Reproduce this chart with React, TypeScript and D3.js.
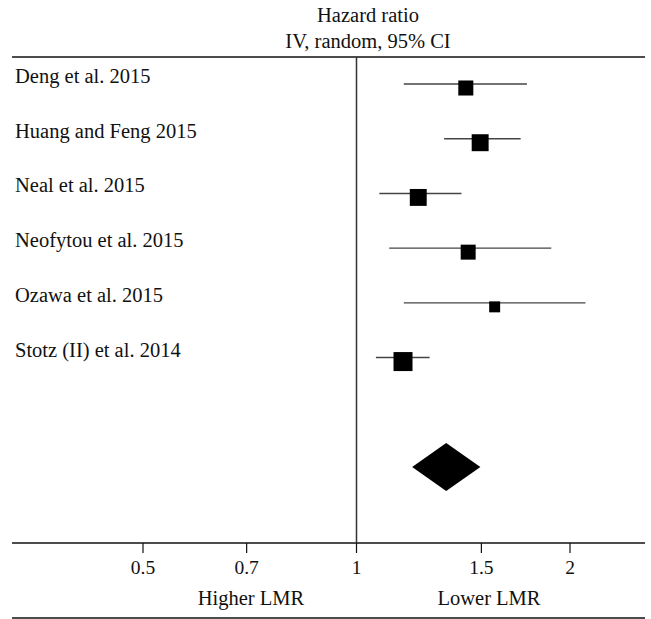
import * as d3 from 'd3';
import { useEffect, useRef } from 'react';

// study rows
const studies = [
  'Deng et al. 2015',
  'Huang and Feng 2015',
  'Neal et al. 2015',
  'Neofytou et al. 2015',
  'Ozawa et al. 2015',
  'Stotz (II) et al. 2014',
];
const hazardRatios = [1.426, 1.494, 1.222, 1.437, 1.566, 1.163];
const lowerCI = [1.166, 1.329, 1.077, 1.112, 1.166, 1.065];
const upperCI = [1.739, 1.704, 1.406, 1.882, 2.103, 1.268];
const weights = [15.0, 19.1, 19.0, 14.9, 8.0, 24.0];

const pooled = { hr: 1.338, lo: 1.198, hi: 1.495 };

const tickValues = [0.5, 0.7, 1, 1.5, 2];
const tickLabels = ['0.5', '0.7', '1', '1.5', '2'];
const titleLines = ['Hazard ratio', 'IV, random, 95% CI'];
const favourLabels = ['Higher LMR', 'Lower LMR'];

export default function App() {
  const ref = useRef<SVGSVGElement>(null);
  const width = 651;
  const height = 619;

  useEffect(() => {
    const svg = d3.select(ref.current);
    svg.selectAll('*').remove();

    const font = '"Liberation Serif", "Times New Roman", serif';
    const left = 12;
    const right = 645;
    const topRule = 57;
    const axisY = 543;
    const bottomRule = 618;

    const x = d3.scaleLog().domain([1, 2]).range([356.5, 570]);
    const y = d3.scaleLinear().domain([0, 7]).range([84, 467]);
    const size = d3.scaleSqrt().domain([0, 24]).range([0, 19]);

    const root = svg.append('g').style('font-family', font).style('font-size', '20.5px');

    // header
    titleLines.forEach((line, i) => {
      root.append('text')
        .attr('x', 368)
        .attr('y', 22 + i * 26)
        .attr('text-anchor', 'middle')
        .attr('fill', '#111')
        .text(line);
    });

    // horizontal rules
    [topRule, axisY, bottomRule].forEach((yy) => {
      root.append('line')
        .attr('x1', left)
        .attr('x2', right)
        .attr('y1', yy)
        .attr('y2', yy)
        .attr('stroke', '#111')
        .attr('stroke-width', 1.5);
    });

    // line of no effect
    root.append('line')
      .attr('x1', x(1))
      .attr('x2', x(1))
      .attr('y1', topRule)
      .attr('y2', axisY)
      .attr('stroke', '#333')
      .attr('stroke-width', 1.5);

    // ticks
    const ticks = root.append('g');
    tickValues.forEach((v, i) => {
      ticks.append('line')
        .attr('x1', x(v))
        .attr('x2', x(v))
        .attr('y1', axisY)
        .attr('y2', axisY + 10)
        .attr('stroke', '#111')
        .attr('stroke-width', 1.2);
      ticks.append('text')
        .attr('x', x(v))
        .attr('y', 574)
        .attr('text-anchor', 'middle')
        .attr('fill', '#111')
        .style('font-size', '19.5px')
        .text(tickLabels[i]);
    });

    root.append('text')
      .attr('x', 251)
      .attr('y', 605)
      .attr('text-anchor', 'middle')
      .attr('fill', '#111')
      .text(favourLabels[0]);
    root.append('text')
      .attr('x', 489)
      .attr('y', 605)
      .attr('text-anchor', 'middle')
      .attr('fill', '#111')
      .text(favourLabels[1]);

    // study rows
    studies.forEach((name, i) => {
      const yy = y(i);
      root.append('text')
        .attr('x', 15)
        .attr('y', yy - 1)
        .attr('fill', '#111')
        .text(name);

      root.append('line')
        .attr('x1', x(lowerCI[i]))
        .attr('x2', x(upperCI[i]))
        .attr('y1', yy)
        .attr('y2', yy)
        .attr('stroke', '#444')
        .attr('stroke-width', 1.4);

      const s = size(weights[i]);
      root.append('rect')
        .attr('x', x(hazardRatios[i]) - s / 2)
        .attr('y', yy + 4 - s / 2)
        .attr('width', s)
        .attr('height', s)
        .attr('fill', '#000');
    });

    // pooled diamond
    const py = y(7);
    const halfH = 24;
    const diamond = [
      [x(pooled.lo), py],
      [x(pooled.hr), py - halfH],
      [x(pooled.hi), py],
      [x(pooled.hr), py + halfH],
    ];
    root.append('path')
      .attr('d', `M${diamond.map((p) => p.join(',')).join('L')}Z`)
      .attr('fill', '#000');
  }, []);

  return (
    <svg
      ref={ref}
      width={width}
      height={height}
      style={{ position: 'absolute', left: 0, top: 0, background: '#fff' }}
    />
  );
}
